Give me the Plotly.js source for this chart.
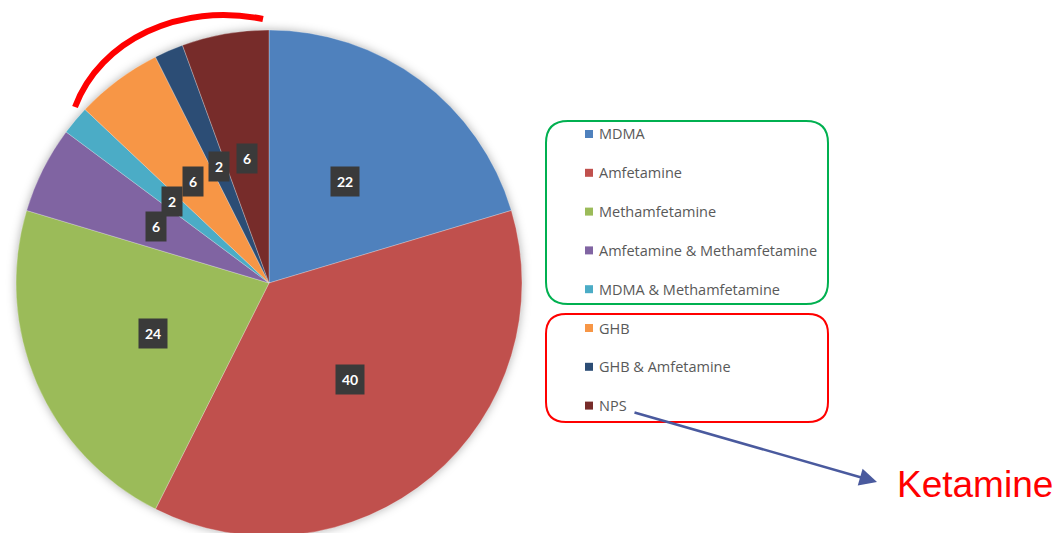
<!DOCTYPE html>
<html>
<head>
<meta charset="utf-8">
<script src="https://cdn.plot.ly/plotly-3.0.1.min.js"></script>
<style>
  html, body { margin: 0; padding: 0; overflow: hidden; background: #ffffff; }
  #chart { width: 1056px; height: 540px; }
  .pielayer .trace { filter: drop-shadow(0 0 5px rgba(0,0,0,0.30)); }
</style>
</head>
<body>
<div id="chart"></div>
<script>
// ---- data ----
const categories = ["MDMA", "Amfetamine", "Methamfetamine", "Amfetamine & Methamfetamine",
                    "MDMA & Methamfetamine", "GHB", "GHB & Amfetamine", "NPS"];
const values = [22, 40, 24, 6, 2, 6, 2, 6];
const colors = ["#4F81BD", "#C0504D", "#9BBB59", "#8064A2", "#4BACC6", "#F79646", "#2C4D75", "#772C2A"];
const calloutText = "Ketamine";

// ---- layout geometry (pixels) ----
const W = 1056, H = 540;
const cx = 269, cy = 283, R = 253;
const fx = px => px / W;
const fy = py => 1 - py / H;

const total = values.reduce((a, b) => a + b, 0);
const annotations = [];
const shapes = [];

// value labels in dark boxes, at half radius along each slice's mid-angle
let cum = 0;
values.forEach((v, i) => {
  const th = 2 * Math.PI * (cum + v / 2) / total;
  cum += v;
  annotations.push({
    xref: "paper", yref: "paper",
    x: fx(cx + 0.5 * R * Math.sin(th)), y: fy(cy - 0.5 * R * Math.cos(th)),
    xanchor: "center", yanchor: "middle",
    text: "<b>" + v + "</b>", showarrow: false,
    font: { family: "Lato, 'Open Sans', sans-serif", size: 14, color: "#ffffff" },
    bgcolor: "#3a3a3a", borderpad: 6
  });
});

// legend (custom, to keep reference spacing)
const legX = 585, legY0 = 134, legStep = 38.8, sq = 8;
categories.forEach((c, i) => {
  const yc = legY0 + i * legStep;
  shapes.push({
    type: "rect", xref: "paper", yref: "paper",
    x0: fx(legX), x1: fx(legX + sq), y0: fy(yc - sq / 2), y1: fy(yc + sq / 2),
    fillcolor: colors[i], line: { width: 0 }
  });
  annotations.push({
    xref: "paper", yref: "paper", x: fx(legX + 12), y: fy(yc),
    xanchor: "left", yanchor: "middle", showarrow: false,
    text: c, font: { family: "'Open Sans', sans-serif", size: 14.5, color: "#595959" }
  });
});

// rounded group boxes
function rrect(x0, y0, x1, y1, r) {
  const P = (x, y) => fx(x) + "," + fy(y);
  return "M" + P(x0 + r, y0) + " L" + P(x1 - r, y0) + " Q" + P(x1, y0) + " " + P(x1, y0 + r) +
         " L" + P(x1, y1 - r) + " Q" + P(x1, y1) + " " + P(x1 - r, y1) +
         " L" + P(x0 + r, y1) + " Q" + P(x0, y1) + " " + P(x0, y1 - r) +
         " L" + P(x0, y0 + r) + " Q" + P(x0, y0) + " " + P(x0 + r, y0) + " Z";
}
shapes.push({ type: "path", xref: "paper", yref: "paper", path: rrect(546, 121, 828, 304, 22),
              line: { color: "#00B050", width: 2 }, fillcolor: "rgba(0,0,0,0)" });
shapes.push({ type: "path", xref: "paper", yref: "paper", path: rrect(546, 314, 828, 422, 20),
              line: { color: "#FF0000", width: 2 }, fillcolor: "rgba(0,0,0,0)" });

// red arc highlighting the top-left slices
shapes.push({
  type: "path", xref: "paper", yref: "paper",
  path: "M" + fx(75) + "," + fy(107) + " C" + fx(100) + "," + fy(40) + " " + fx(180) + "," + fy(2) + " " + fx(263) + "," + fy(19),
  line: { color: "#FF0000", width: 6 }, fillcolor: "rgba(0,0,0,0)"
});

// arrow + Ketamine
annotations.push({
  xref: "paper", yref: "paper", x: fx(877), y: fy(482),
  ax: 633 - 877, ay: 412 - 482, text: "", showarrow: true,
  arrowhead: 2, arrowsize: 1.4, arrowwidth: 2.5, arrowcolor: "#4A5A9E", standoff: 0
});
annotations.push({
  xref: "paper", yref: "paper", x: fx(895), y: fy(484),
  xanchor: "left", yanchor: "middle", showarrow: false,
  text: calloutText, font: { family: "'Liberation Sans', Arial, sans-serif", size: 37, color: "#FF0000" }
});

const trace = {
  type: "pie",
  labels: categories,
  values: values,
  sort: false,
  direction: "clockwise",
  rotation: 0,
  textinfo: "none",
  hoverinfo: "label+value",
  marker: { colors: colors, line: { color: "rgba(255,255,255,0.35)", width: 0.8 } },
  domain: { x: [fx(cx - R), fx(cx + R)], y: [fy(cy + R), fy(cy - R)] },
  showlegend: false
};

const layout = {
  width: W, height: H,
  margin: { l: 0, r: 0, t: 0, b: 0, pad: 0 },
  paper_bgcolor: "#ffffff",
  showlegend: false,
  annotations: annotations,
  shapes: shapes
};

Plotly.newPlot("chart", [trace], layout, { displayModeBar: false, staticPlot: true });
</script>
</body>
</html>
